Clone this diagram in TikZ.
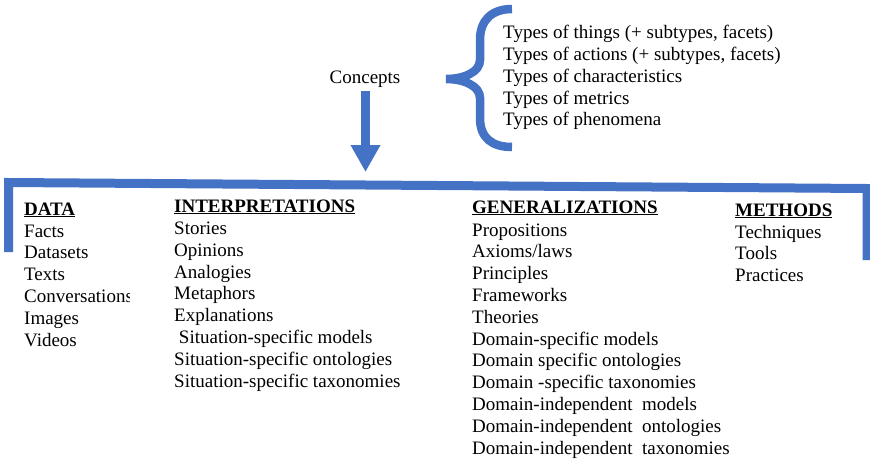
\documentclass[tikz,border=0pt]{standalone}
\usepackage{fontspec}
\setmainfont{Liberation Serif}
\usetikzlibrary{arrows.meta}
\definecolor{ablue}{RGB}{68,114,196}
\begin{document}
\begin{tikzpicture}[x=1pt,y=-1pt,
  txt/.style={anchor=base west,inner sep=0pt,font=\fontsize{19}{22}\selectfont},
  hdr/.style={txt,font=\fontsize{19}{22}\selectfont\bfseries},
  bluestroke/.style={draw=ablue,line width=9pt}]
\useasboundingbox (0,0) rectangle (870,461);

% Concepts and brace list
\node[txt,anchor=base] (concepts) at (365,83) {Concepts};
\draw[draw=ablue,line width=8.5pt]
  (512,9) .. controls (492,9) and (480,20) .. (480,40) -- (480,60)
  .. controls (480,72) and (464,79) .. (446,79)
  .. controls (464,79) and (480,86) .. (480,98) -- (480,118)
  .. controls (480,138) and (492,147) .. (512,147);
\foreach \t [count=\i from 0] in {{Types of things (+ subtypes, facets)},{Types of actions (+ subtypes, facets)},{Types of characteristics},{Types of metrics},{Types of phenomena}}
  \node[txt] (type\i) at (503,{38.7+21.8*\i}) {\t};

% block arrow
\coordinate (arrowstart) at (365.5,91);
\coordinate (arrowend) at (365.5,172);
\draw[draw=ablue,line width=9pt,-{Triangle[width=28pt,length=27pt]},ablue] (arrowstart) -- (arrowend);

% bracket bar
\draw[bluestroke,line join=miter] (8.5,252) -- (8.5,182.5) -- (867,188.5) -- (867,260);

% DATA column
\node[hdr] (data) at (24,215) {\underline{DATA}};
\begin{scope}
\clip (0,0) rectangle (129.5,461);
\foreach \t [count=\i from 0] in {Facts,Datasets,Texts,Conversations,Images,Videos}
  \node[txt] (d\i) at (24,{237+21.8*\i}) {\t};
\end{scope}

% INTERPRETATIONS column
\node[hdr] (interp) at (174,212) {\underline{INTERPRETATIONS}};
\foreach \t [count=\i from 0] in {Stories,Opinions,Analogies,Metaphors,Explanations,{\ Situation-specific models},{Situation-specific ontologies},{Situation-specific taxonomies}}
  \node[txt] (p\i) at (174,{234.5+21.8*\i}) {\t};

% GENERALIZATIONS column
\node[hdr] (gen) at (472,213) {\underline{GENERALIZATIONS}};
\foreach \t [count=\i from 0] in {Propositions,Axioms/laws,Principles,Frameworks,Theories,{Domain-specific models},{Domain specific ontologies},{Domain -specific taxonomies},{Domain-independent~ models},{Domain-independent~ ontologies},{Domain-independent~ taxonomies}}
  \node[txt] (g\i) at (472,{236+21.8*\i}) {\t};

% METHODS column
\node[hdr] (meth) at (735,216) {\underline{METHODS}};
\foreach \t [count=\i from 0] in {Techniques,Tools,Practices}
  \node[txt] (m\i) at (735,{238+21.8*\i}) {\t};
\end{tikzpicture}
\end{document}
